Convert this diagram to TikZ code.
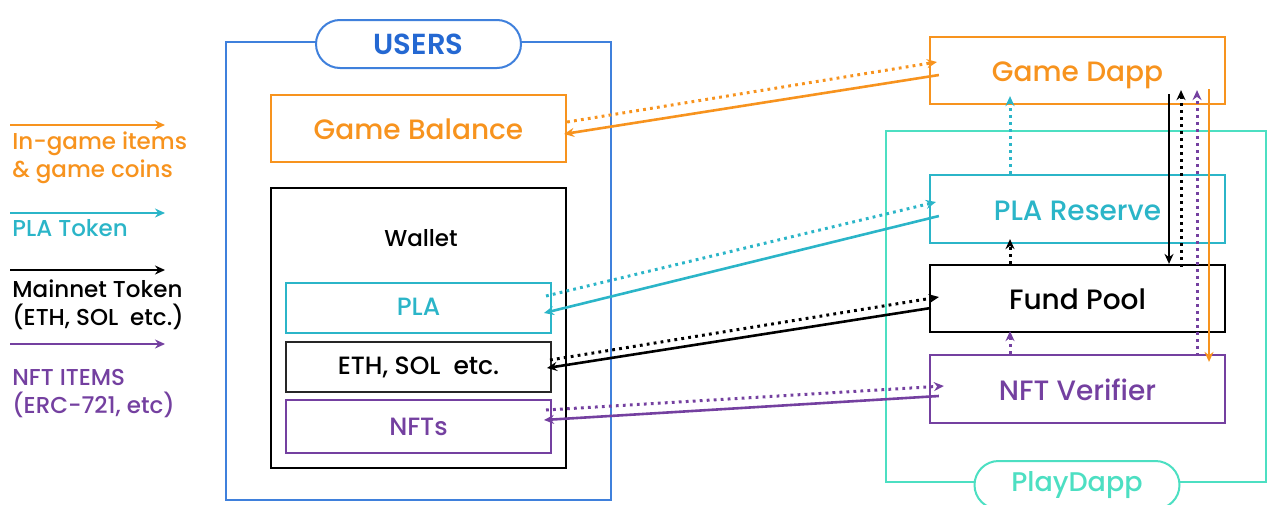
\documentclass[tikz,border=0pt]{standalone}
\usepackage{fontspec}
\setmainfont{Poppins}[UprightFont=* Medium, BoldFont=* SemiBold]
\usetikzlibrary{arrows.meta}

\definecolor{gameorange}{HTML}{F7931E}
\definecolor{placyan}{HTML}{2BB5C8}
\definecolor{pdteal}{HTML}{4CDFC2}
\definecolor{userblue}{HTML}{3F80DC}
\definecolor{usertext}{HTML}{2468D2}
\definecolor{nftpurple}{HTML}{7440A0}

\tikzset{
  box/.style={draw, line width=1.1pt, minimum width=147.5pt, minimum height=33.5pt,
    text height=11pt, text depth=0pt, font=\fontsize{14}{16}\selectfont},
  inbox/.style={draw, line width=1pt, minimum width=132.5pt, minimum height=25pt,
    font=\fontsize{12.5}{15}\selectfont},
  frame/.style={draw, line width=0.8pt},
  pill/.style={draw, line width=1pt, fill=white, rounded corners=12pt,
    minimum width=102.5pt, minimum height=24pt, font=\fontsize{13.5}{15}\selectfont},
  legend/.style={anchor=north west, inner sep=0pt, align=left,
    font=\fontsize{11.5}{14}\selectfont},
  flow/.style={->, line width=1.3pt},
  dotflow/.style={->, line width=1.5pt, dash pattern=on 1.4pt off 2.1pt}
}

\begin{document}
\begin{tikzpicture}[x=0.5pt, y=-0.5pt, >={Stealth[length=5pt,width=4.5pt]}]
\useasboundingbox (0,0) rectangle (1268,504);

% Legend
\coordinate (lg1) at (10,125);
\coordinate (lg2) at (10,213);
\coordinate (lg3) at (10,270);
\coordinate (lg4) at (10,344);
\draw[flow, gameorange] (lg1) -- ++(155,0);
\draw[flow, placyan] (lg2) -- ++(155,0);
\draw[flow, black] (lg3) -- ++(155,0);
\draw[flow, nftpurple] (lg4) -- ++(155,0);
\node[legend, text=gameorange] (lgame) at (12,131) {In-game items\\\& game coins};
\node[legend, text=placyan] (lpla) at (12,219) {PLA Token};
\node[legend, text=black] (lmain) at (12,279) {Mainnet Token\\(ETH, SOL\ \ etc.)};
\node[legend, text=nftpurple] (lnft) at (12,369) {NFT ITEMS\\(ERC-721, etc)};

% Users side
\node[frame, draw=userblue, minimum width=192.5pt, minimum height=229pt] (users) at (418.5,271) {};
\node[pill, draw=userblue, text=usertext, font=\fontsize{14.5}{15}\bfseries] (userslbl) at (418.5,44) {USERS};
\node[box, draw=gameorange, text=gameorange] (gamebal) at (418.5,128.5) {Game Balance};
\node[draw, line width=1.3pt, minimum width=147.5pt, minimum height=140pt] (wallet) at (418.5,328) {};
\node[font=\fontsize{11.5}{14}\selectfont] (walletlbl) at (421,238) {Wallet};
\node[inbox, draw=placyan, text=placyan, text depth=1pt] (pla) at (418.5,308) {PLA};
\node[inbox, draw=black!85] (eth) at (418.5,367) {ETH, SOL\ \ etc.};
\node[inbox, draw=nftpurple, text=nftpurple, minimum height=26.5pt] (nfts) at (418.5,426.5) {NFTs};

% PlayDapp side
\node[frame, draw=pdteal, minimum width=190pt, minimum height=175.5pt] (playdapp) at (1076,306.5) {};
\node[pill, draw=pdteal, text=pdteal] (playlbl) at (1077,485) {PlayDapp};
\node[box, draw=gameorange, text=gameorange] (gamedapp) at (1077.5,70.5) {Game Dapp};
\node[box, draw=placyan, text=placyan, minimum height=34pt] (plares) at (1077.5,209) {PLA Reserve};
\node[box, draw=black] (fundpool) at (1077.5,298.5) {Fund Pool};
\node[box, draw=nftpurple, text=nftpurple, minimum height=34pt] (nftver) at (1077.5,389) {NFT Verifier};

% Users <-> PlayDapp
\draw[dotflow, gameorange] ([yshift=3.25pt]gamebal.east) -- ([xshift=4pt,yshift=4.25pt]gamedapp.west);
\draw[flow, gameorange] ([xshift=5pt,yshift=-2.25pt]gamedapp.west) -- ([xshift=-1.5pt,yshift=-2.75pt]gamebal.east);
\draw[dotflow, placyan] ([xshift=-3pt,yshift=6pt]pla.east) -- ([xshift=3.5pt,yshift=3.5pt]plares.west);
\draw[flow, placyan] ([xshift=5pt,yshift=-3.5pt]plares.west) -- ([xshift=-4pt,yshift=-2.5pt]pla.east);
\draw[dotflow, black] ([xshift=-1pt,yshift=3.5pt]eth.east) -- ([xshift=5pt,yshift=0.75pt]fundpool.west);
\draw[flow, black] ([xshift=1pt,yshift=-4.75pt]fundpool.west) -- ([xshift=-2.5pt,yshift=-0.5pt]eth.east);
\draw[dotflow, nftpurple] ([xshift=-3pt,yshift=8.25pt]nfts.east) -- ([xshift=7.5pt,yshift=1.5pt]nftver.west);
\draw[flow, nftpurple] ([xshift=5pt,yshift=-3.5pt]nftver.west) -- ([xshift=-4pt,yshift=3.25pt]nfts.east);

% Inside PlayDapp
\draw[dotflow, placyan] ([xshift=-33.75pt]plares.north) -- ([xshift=-33.75pt,yshift=4.5pt]gamedapp.south);
\draw[dotflow, black] ([xshift=-33.75pt]fundpool.north) -- ([xshift=-33.75pt,yshift=2.5pt]plares.south);
\draw[dotflow, nftpurple] ([xshift=-33.75pt]nftver.north) -- ([xshift=-33.75pt,yshift=1pt]fundpool.south);
\draw[flow, black] ([xshift=45.75pt,yshift=5.5pt]gamedapp.south) -- ([xshift=45.75pt]fundpool.north);
\draw[dotflow, black] ([xshift=51.75pt,yshift=-1.5pt]fundpool.north) -- ([xshift=51.75pt,yshift=7.5pt]gamedapp.south);
\draw[dotflow, nftpurple] ([xshift=59.75pt,yshift=-1pt]nftver.north) -- ([xshift=59.75pt,yshift=7.5pt]gamedapp.south);
\draw[flow, gameorange] ([xshift=65.75pt,yshift=8pt]gamedapp.south) -- ([xshift=65.75pt,yshift=-4pt]nftver.north);

\end{tikzpicture}
\end{document}
